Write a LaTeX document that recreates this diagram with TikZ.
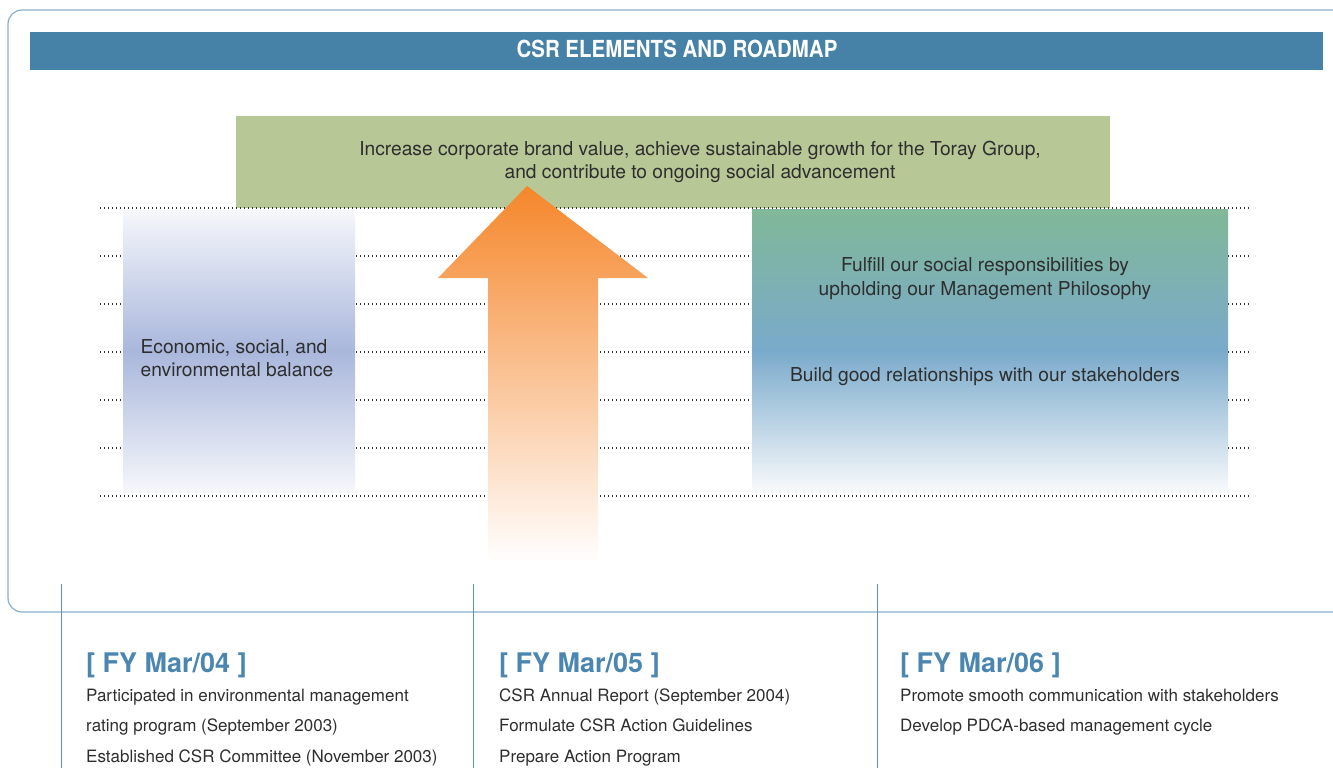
\documentclass[tikz,border=0pt]{standalone}
\usepackage{fontspec}
\setmainfont{TeX Gyre Heros}
\newfontfamily\condfont[FakeStretch=0.87]{TeX Gyre Heros}
\definecolor{titleblue}{HTML}{4682A8}
\definecolor{framecol}{HTML}{8AAFCB}
\definecolor{goalgreen}{HTML}{B7C796}
\definecolor{textgray}{HTML}{2E2E2E}
\definecolor{headblue}{HTML}{4A86B0}
\definecolor{lineblue}{HTML}{5C90B8}
\definecolor{dotgray}{HTML}{333333}
\definecolor{arroworange}{HTML}{F5862A}
\definecolor{leftmid}{HTML}{A9B7DC}
\definecolor{lefttop}{HTML}{F6F7FB}
\definecolor{rtop}{HTML}{80B898}
\definecolor{rmid}{HTML}{7AAACB}
\definecolor{rbot}{HTML}{F8FAFC}
\begin{document}
\begin{tikzpicture}[x=1pt,y=-1pt,
  txt/.style={text=textgray, font=\fontsize{19.2}{23.5}\selectfont, align=center, inner sep=0},
  item/.style={text=textgray, font=\fontsize{17}{20}\selectfont, anchor=base west, inner sep=0},
  yearhead/.style={text=headblue, font=\bfseries\fontsize{27}{30}\selectfont, anchor=base west, inner sep=0},
  dotline/.style={draw=dotgray, line width=1.1pt, dash pattern=on 1.1pt off 2.9pt},
  vline/.style={draw=lineblue, line width=1pt},
  boxnode/.style={anchor=north west, inner sep=0, outer sep=0}]
\useasboundingbox (0,0) rectangle (1333,768);
% outer frame
\coordinate (frTR) at (1360,10);
\coordinate (frTL) at (8,10);
\coordinate (frBL) at (8,612);
\coordinate (frBR) at (1360,612);
\draw[framecol, line width=1.2pt, rounded corners=14pt] (frTR) -- (frTL) -- (frBL) -- (frBR);
% title bar
\node[boxnode, fill=titleblue, minimum width=1293pt, minimum height=38pt] (title) at (30,32) {};
\node[text=white, font=\condfont\bfseries\fontsize{23.5}{26}\selectfont, inner sep=0] (titletext) at (677,49) {CSR ELEMENTS AND ROADMAP};
% goal box
\node[boxnode, fill=goalgreen, minimum width=874pt, minimum height=92pt] (goal) at (236,116) {};
\node[txt] (goaltext) at (700,162) {Increase corporate brand value, achieve sustainable growth for the Toray Group,\\and contribute to ongoing social advancement};
% dotted lines
\foreach \yy in {208,256,304,352,400,448,496} {
  \coordinate (dl\yy) at (100,\yy);
  \coordinate (dr\yy) at (1250,\yy);
  \draw[dotline] (dl\yy) -- (dr\yy);
}
% left box
\node[boxnode, minimum width=232pt, minimum height=282pt, top color=lefttop, bottom color=lefttop, middle color=leftmid] (balance) at (123,210) {};
\node[txt, align=left] (baltext) at (237,358) {Economic, social, and\\environmental balance};
% right box
\node[boxnode, minimum width=476pt, minimum height=283pt, top color=rtop, bottom color=rbot, middle color=rmid] (stake) at (752,209) {};
\node[txt] (philo) at (985,278.5) {Fulfill our social responsibilities by\\upholding our Management Philosophy};
\node[txt] (relat) at (985,377) {Build good relationships with our stakeholders};
% arrow
\shade[top color=arroworange, bottom color=white] (527,186) -- (648,278) -- (598,278) -- (598,562) -- (488,562) -- (488,278) -- (438,278) -- cycle;
% columns
\foreach \xx/\nm in {61/a,473/b,877/c} {
  \coordinate (\nm top) at (\xx,584);
  \coordinate (\nm bot) at (\xx,770);
  \draw[vline] (\nm top) -- (\nm bot);
}
% column 1
\node[yearhead] (y04) at (86,672.5) {[ FY Mar/04 ]};
\node[item] (i041) at (86,701) {Participated in environmental management};
\node[item] (i042) at (86,731) {rating program (September 2003)};
\node[item] (i043) at (86,762) {Established CSR Committee (November 2003)};
% column 2
\node[yearhead] (y05) at (499,672.5) {[ FY Mar/05 ]};
\node[item] (i051) at (499,701) {CSR Annual Report (September 2004)};
\node[item] (i052) at (499,731) {Formulate CSR Action Guidelines};
\node[item] (i053) at (499,762) {Prepare Action Program};
% column 3
\node[yearhead] (y06) at (900,672.5) {[ FY Mar/06 ]};
\node[item] (i061) at (900,701) {Promote smooth communication with stakeholders};
\node[item] (i062) at (900,731) {Develop PDCA-based management cycle};
\end{tikzpicture}
\end{document}
